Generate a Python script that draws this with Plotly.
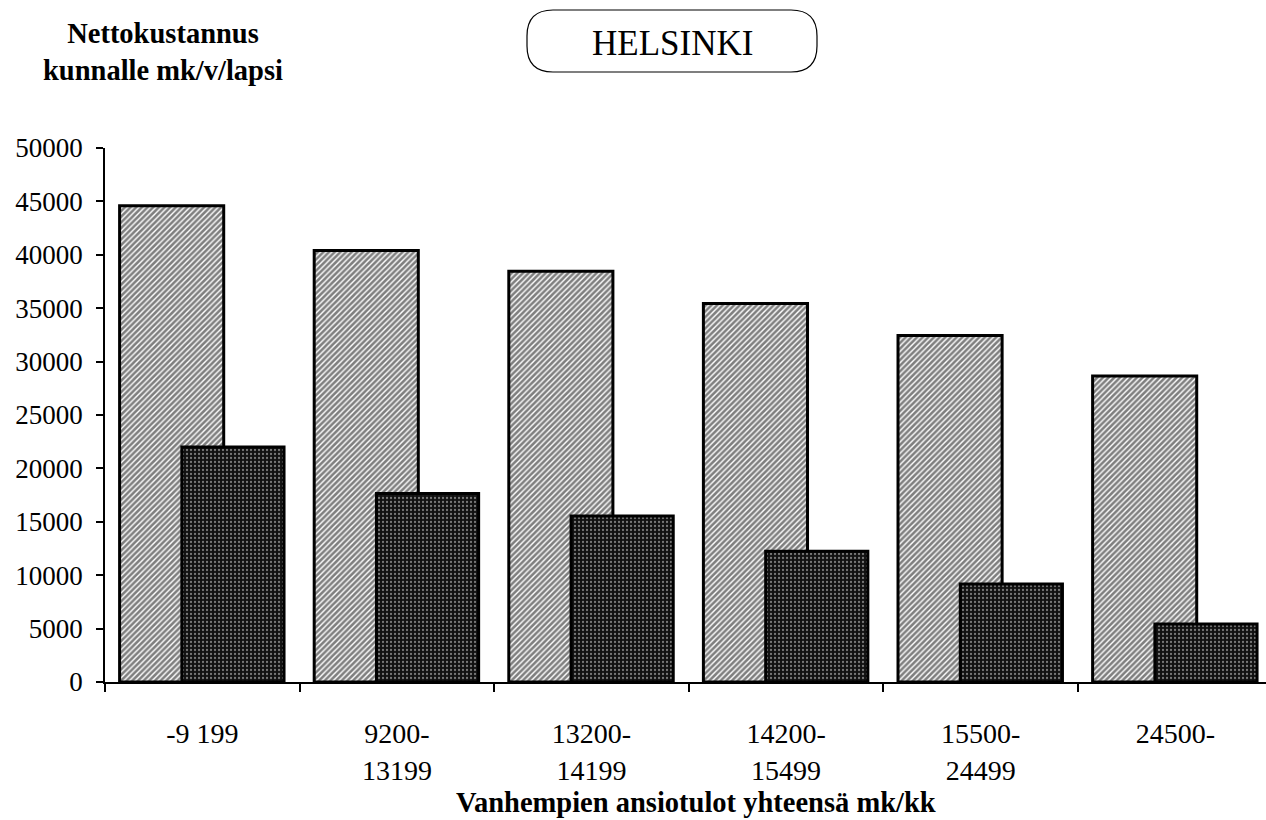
import plotly.graph_objects as go

categories = ["-9 199", "9200-<br>13199", "13200-<br>14199", "14200-<br>15499", "15500-<br>24499", "24500-"]
series_a = [44600, 40400, 38450, 35450, 32450, 28650]
series_b = [22000, 17650, 15550, 12250, 9180, 5420]
y_ticks = [0, 5000, 10000, 15000, 20000, 25000, 30000, 35000, 40000, 45000, 50000]

FONT = "Liberation Serif"
W, H = 1266, 820
L, R, T, B = 105, 0, 148, 138
PW, PH = W - L - R, H - T - B


def px(x):
    return (x - L) / PW


def py(y):
    return (H - B - y) / PH


fig = go.Figure()
fig.add_trace(go.Bar(
    x=categories, y=series_a, offset=-0.425, width=0.535,
    marker=dict(color="white", line=dict(color="black", width=3),
                pattern=dict(shape="/", fgcolor="black", bgcolor="white", size=4, solidity=0.65)),
    showlegend=False,
))
fig.add_trace(go.Bar(
    x=categories, y=series_b, offset=-0.105, width=0.525,
    marker=dict(color="#111111", line=dict(color="black", width=3),
                pattern=dict(shape=".", fgcolor="#e0e0e0", bgcolor="#111111", size=4, solidity=0.25)),
    showlegend=False,
))

# rounded title box
x0, x1, y0, y1, r = 527, 817, 10, 72, 26
path = (f"M {px(x0 + r)} {py(y0)} L {px(x1 - r)} {py(y0)} "
        f"Q {px(x1)} {py(y0)} {px(x1)} {py(y0 + r)} L {px(x1)} {py(y1 - r)} "
        f"Q {px(x1)} {py(y1)} {px(x1 - r)} {py(y1)} L {px(x0 + r)} {py(y1)} "
        f"Q {px(x0)} {py(y1)} {px(x0)} {py(y1 - r)} L {px(x0)} {py(y0 + r)} "
        f"Q {px(x0)} {py(y0)} {px(x0 + r)} {py(y0)} Z")
fig.add_shape(type="path", path=path, xref="paper", yref="paper",
              line=dict(color="black", width=1.2), fillcolor="rgba(0,0,0,0)")

fig.add_annotation(text="HELSINKI", x=px(672), y=py(43), xref="paper", yref="paper",
                   showarrow=False, xanchor="center", yanchor="middle",
                   font=dict(family=FONT, size=35, color="black"))
fig.add_annotation(text="<b>Nettokustannus<br>kunnalle mk/v/lapsi</b>", x=px(163), y=py(52),
                   xref="paper", yref="paper", showarrow=False, xanchor="center", yanchor="middle",
                   align="center", font=dict(family=FONT, size=28.5, color="black"))
fig.add_annotation(text="<b>Vanhempien ansiotulot yhteensä mk/kk</b>", x=px(696), y=py(802),
                   xref="paper", yref="paper", showarrow=False, xanchor="center", yanchor="middle",
                   font=dict(family=FONT, size=28.5, color="black"))

fig.update_layout(
    width=W, height=H,
    margin=dict(l=L, r=R, t=T, b=B),
    paper_bgcolor="white", plot_bgcolor="white",
    barmode="overlay",
    font=dict(family=FONT, color="black"),
    xaxis=dict(type="category", range=[-0.5, 5.466], tickson="boundaries",
               ticks="outside", ticklen=8, tickcolor="black", tickwidth=1.5,
               showline=True, linecolor="black", linewidth=1.5, showgrid=False,
               tickfont=dict(family=FONT, size=28, color="black"), ticklabelstandoff=26),
    yaxis=dict(range=[0, 50000], tickvals=y_ticks, tickformat="d", ticks="outside", ticklen=7,
               tickcolor="black", tickwidth=1.5, showline=True, linecolor="black",
               linewidth=1.5, showgrid=False, zeroline=False, ticklabelstandoff=8,
               tickfont=dict(family=FONT, size=27, color="black")),
)

fig.write_html("out.html", config={"displayModeBar": False},
               post_script="document.body.style.margin='0px';")
